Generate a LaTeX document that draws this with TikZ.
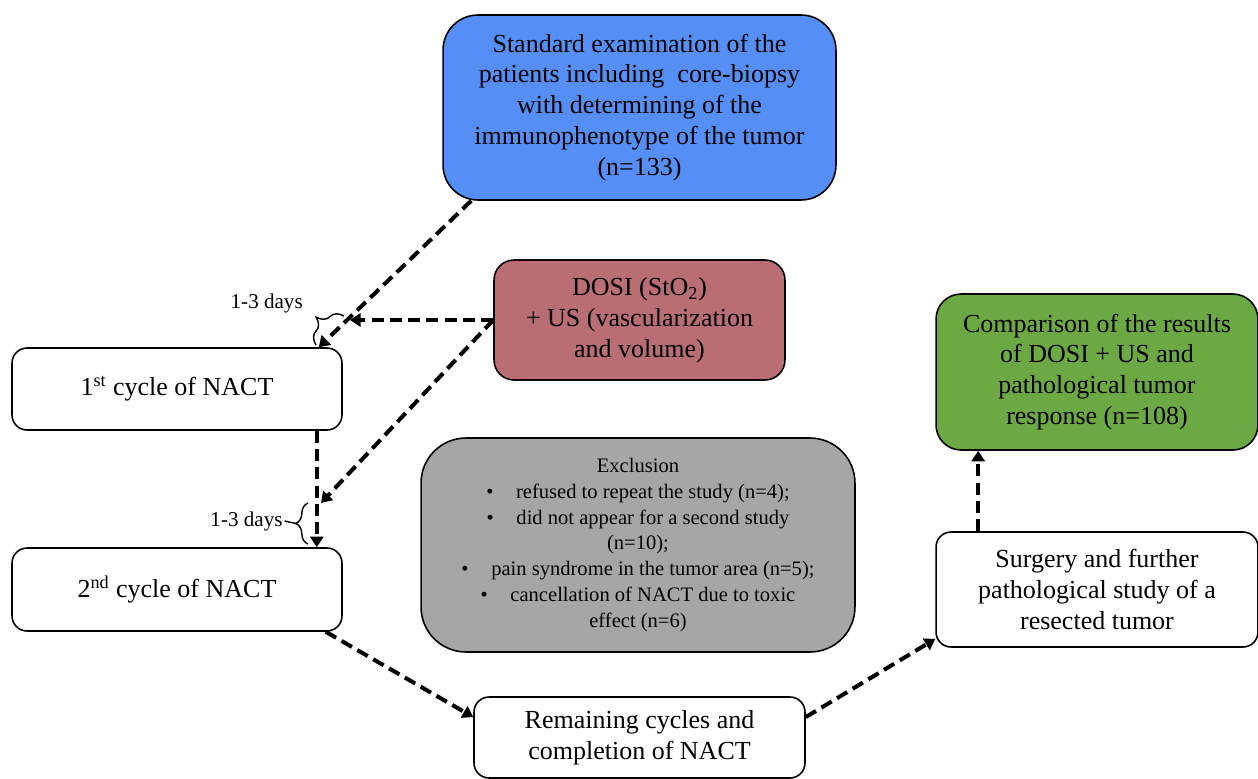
\documentclass[tikz,border=0pt]{standalone}
\usepackage{fontspec}
\setmainfont{Liberation Serif}
\usetikzlibrary{arrows.meta, decorations.pathreplacing}

\definecolor{examblue}{RGB}{85,143,246}
\definecolor{dosired}{RGB}{185,109,117}
\definecolor{resgreen}{RGB}{108,169,68}
\definecolor{exclgray}{RGB}{166,166,166}

\begin{document}
\begin{tikzpicture}[
            x = 0.02cm, y = -0.02cm, % one unit is one pixel of the sketch
            box/.style = {draw, line width=0.9pt, align=center, inner sep=0pt,
                          font=\fontsize{14.8}{17.6}\selectfont}, % all the boxes
            flow/.style = {line width=2.3pt, dash pattern=on 6.8pt off 3.6pt,
                           -{Triangle[length=6pt,width=7.5pt]}}, % dashed arrows
            daybrace/.style = {decorate, decoration={brace, amplitude=#1}, line width=0.8pt},
            days/.style = {font=\fontsize{12}{14}\selectfont, inner sep=1pt}
        ]
        \useasboundingbox (0,0) rectangle (1258,778);

        \node[box, fill=examblue, rounded corners=0.7cm, minimum width=7.86cm, minimum height=3.7cm]
            (exam) at (639.5,107.5)
            {Standard examination of the\\patients including\ \ core-biopsy\\with determining of the\\immunophenotype of the tumor\\(n=133)};
        \node[box, fill=dosired, rounded corners=0.4cm, minimum width=5.82cm, minimum height=2.4cm]
            (dosi) at (639.5,320)
            {DOSI (StO\textsubscript{2})\\+ US (vascularization\\and volume)};
        \node[box, fill=resgreen, rounded corners=0.5cm, minimum width=6.44cm, minimum height=3.12cm]
            (result) at (1097,372)
            {Comparison of the results\\of DOSI + US and\\pathological tumor\\response (n=108)};
        \node[box, rounded corners=0.3cm, minimum width=6.6cm, minimum height=1.64cm]
            (cyc1) at (177,389) {1\textsuperscript{st} cycle of NACT};
        \node[box, rounded corners=0.3cm, minimum width=6.6cm, minimum height=1.66cm]
            (cyc2) at (177,589.5) {2\textsuperscript{nd} cycle of NACT};
        \node[box, fill=exclgray, rounded corners=0.9cm, minimum width=8.68cm, minimum height=4.28cm,
              font=\fontsize{11.7}{14.7}\selectfont]
            (excl) at (638,545)
            {Exclusion\\
             \textbullet\hspace{1.1em}refused to repeat the study (n=4);\\
             \textbullet\hspace{1.1em}did not appear for a second study\\
             (n=10);\\
             \textbullet\hspace{1.1em}pain syndrome in the tumor area (n=5);\\
             \textbullet\hspace{1.1em}cancellation of NACT due to toxic\\
             effect (n=6)};
        \node[box, rounded corners=0.3cm, minimum width=6.44cm, minimum height=2.3cm]
            (surg) at (1097,589.5)
            {Surgery and further\\pathological study of a\\resected tumor};
        \node[box, rounded corners=0.3cm, minimum width=6.62cm, minimum height=1.62cm]
            (rem) at (639.5,737.5)
            {Remaining cycles and\\completion of NACT};

        % free ends near the braces
        \coordinate (tip1) at (350,320);
        \coordinate (tip2) at (321,503);

        \draw[flow] (exam.209) -- ([xshift=-0.48cm]cyc1.north east);
        \draw[flow] (dosi.west) -- (tip1);
        \draw[flow] (dosi.west) -- (tip2);
        \draw[flow] ([xshift=-0.52cm]cyc1.south east) -- ([xshift=-0.52cm]cyc2.north east);
        \draw[flow] ([xshift=-0.34cm]cyc2.south east) -- (rem.173);
        \draw[flow] (rem.7) -- (surg.197.6);
        \draw[flow] ([xshift=0.86cm]surg.north west) -- ([xshift=0.86cm]result.south west);

        % 1-3 days
        \coordinate (b1a) at (316,345);
        \coordinate (b1b) at (344,316);
        \draw[daybrace=11pt] (b1a) -- (b1b);
        \node[days] (d1) at (266.7,303) {1-3 days};

        \coordinate (b2a) at (308,544);
        \coordinate (b2b) at (308,503);
        \coordinate (b2tip) at (296,523.5);
        \draw[daybrace=7pt] (b2a) -- (b2b);
        \node[days] (d2) at (246.5,521) {1-3 days};
        \draw[line width=0.8pt] (d2.east) -- (b2tip);
\end{tikzpicture}
\end{document}
